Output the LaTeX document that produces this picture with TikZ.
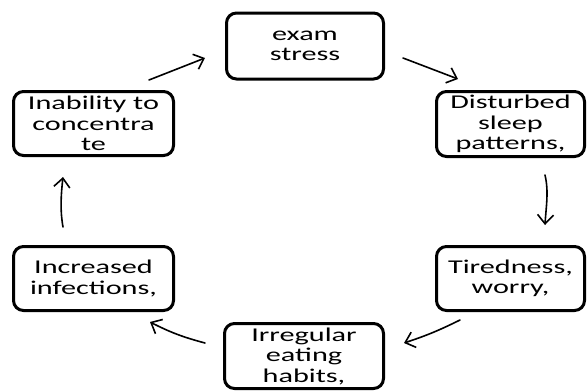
\documentclass[tikz,border=0pt]{standalone}
\usepackage{fontspec}
\setmainfont{Carlito}[FakeStretch=1.55]
\usetikzlibrary{arrows.meta,calc}
\begin{document}
\begin{tikzpicture}[x=1pt,y=-1pt,
  box/.style={draw, line width=3pt, rounded corners=10pt, align=center,
    font=\fontsize{19.5}{20.5}\selectfont, inner sep=0pt},
  arr/.style={line width=1.6pt, line cap=round,
    -{Straight Barb[length=9pt,width=16pt,line width=1.6pt]}}]
\useasboundingbox (0,0) rectangle (587,391);
\node[box, minimum width=157pt, minimum height=66pt] (exam) at (305,46) {exam\\stress};
\node[box, minimum width=148pt, minimum height=65pt] (dist) at (510.5,124) {Disturbed\\sleep\\patterns,};
\node[box, minimum width=148pt, minimum height=64pt] (tired) at (510.5,278.5) {Tiredness,\\worry,};
\node[box, minimum width=159pt, minimum height=65pt] (irreg) at (304,356) {Irregular\\eating\\habits,};
\node[box, minimum width=160pt, minimum height=64pt] (incr) at (93.5,278.5) {Increased\\infections,};
\node[box, minimum width=160pt, minimum height=64pt] (inab) at (93.5,123.5) {Inability to\\concentra\\te};
\coordinate (a1s) at ($(inab.north east)+(-26,-10)$);
\coordinate (a1e) at ($(exam.west)+(-20,12)$);
\coordinate (a2s) at ($(exam.east)+(18,12)$);
\coordinate (a2e) at ($(dist.north west)+(23,-11)$);
\coordinate (a3s) at ($(dist.south)+(34.5,17)$);
\coordinate (a3e) at ($(tired.north)+(34.5,-20)$);
\coordinate (a4s) at ($(tired.south west)+(25,8)$);
\coordinate (a4e) at ($(irreg.east)+(19,-13)$);
\coordinate (a5s) at ($(irreg.west)+(-18,-13)$);
\coordinate (a5e) at ($(incr.south east)+(-25,10)$);
\coordinate (a6s) at ($(incr.north)+(-30.5,-18)$);
\coordinate (a6e) at ($(inab.south)+(-30.5,20)$);
\draw[arr] (a1s) -- (a1e);
\draw[arr] (a2s) -- (a2e);
\draw[arr] (a3s) .. controls ($(a3s)+(4,17)$) and ($(a3e)+(1,-18)$) .. (a3e);
\draw[arr] (a4s) to[bend left=4] (a4e);
\draw[arr] (a5s) to[bend left=6] (a5e);
\draw[arr] (a6s) .. controls ($(a6s)+(-3,-17)$) and ($(a6e)+(-2,18)$) .. (a6e);
\end{tikzpicture}
\end{document}
